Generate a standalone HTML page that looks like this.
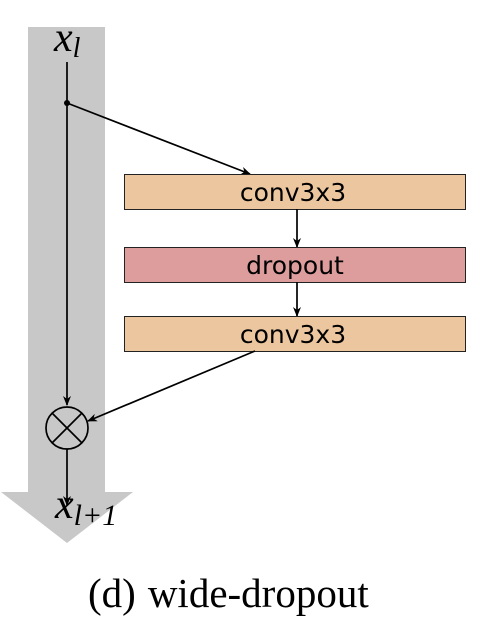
<!DOCTYPE html>
<html><head><meta charset="utf-8"><style>html,body{margin:0;padding:0;background:#fff;width:486px;height:634px;overflow:hidden}</style></head>
<body>
<svg width="486" height="634" viewBox="0 0 486 634" xmlns="http://www.w3.org/2000/svg">
<defs><marker id="ah" markerWidth="10" markerHeight="8" refX="9" refY="4" orient="auto" markerUnits="userSpaceOnUse"><path d="M0,0 L10,4 L0,8 L3,4 Z" fill="#000"/></marker></defs>
<rect x="28" y="27" width="77" height="465" fill="#c8c8c8"/>
<polygon points="1,492 133,492 67,543" fill="#c8c8c8"/>
<text x="54" y="51" font-family="Liberation Serif, serif" font-style="italic" font-size="42">x<tspan font-size="28" dy="6">l</tspan></text>
<line x1="67" y1="62" x2="67" y2="405" stroke="#000" stroke-width="1.7" marker-end="url(#ah)"/>
<circle cx="67" cy="103" r="3" fill="#000"/>
<line x1="67" y1="103" x2="250" y2="174" stroke="#000" stroke-width="1.7" marker-end="url(#ah)"/>
<rect x="124.5" y="174.5" width="341" height="35" fill="#ecc69f" stroke="#222" stroke-width="1"/>
<text x="293" y="201" text-anchor="middle" font-family="DejaVu Sans, sans-serif" font-size="25">conv3x3</text>
<line x1="297" y1="209" x2="297" y2="247" stroke="#000" stroke-width="1.7" marker-end="url(#ah)"/>
<rect x="124.5" y="247.5" width="341" height="35" fill="#dd9d9d" stroke="#222" stroke-width="1"/>
<text x="295" y="274" text-anchor="middle" font-family="DejaVu Sans, sans-serif" font-size="25">dropout</text>
<line x1="297" y1="282" x2="297" y2="316" stroke="#000" stroke-width="1.7" marker-end="url(#ah)"/>
<rect x="124.5" y="316.5" width="341" height="35" fill="#ecc69f" stroke="#222" stroke-width="1"/>
<text x="293" y="343" text-anchor="middle" font-family="DejaVu Sans, sans-serif" font-size="25">conv3x3</text>
<line x1="255" y1="351" x2="88" y2="421" stroke="#000" stroke-width="1.7" marker-end="url(#ah)"/>
<g>
<circle cx="67" cy="428" r="21" fill="none" stroke="#000" stroke-width="1.7"/>
<line x1="52" y1="413" x2="82" y2="443" stroke="#000" stroke-width="1.7"/>
<line x1="82" y1="413" x2="52" y2="443" stroke="#000" stroke-width="1.7"/>
</g>
<line x1="67" y1="449" x2="67" y2="505" stroke="#000" stroke-width="1.7" marker-end="url(#ah)"/>
<text x="55" y="518" font-family="Liberation Serif, serif" font-style="italic" font-size="42">x<tspan font-size="30" dy="7">l+1</tspan></text>
<text x="88" y="607" font-family="Liberation Serif, serif" font-size="41">(d)<tspan dx="12">wide-dropout</tspan></text>
</svg>
</body></html>
